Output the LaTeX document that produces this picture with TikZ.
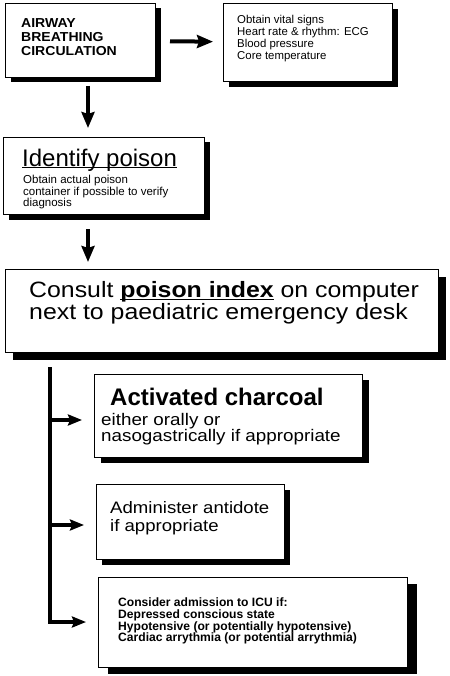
\documentclass[tikz,border=0pt]{standalone}
\usepackage{fontspec}
\setmainfont{Liberation Sans}
\newfontfamily\wide[FakeStretch=1.12]{Liberation Sans}
\newfontfamily\wideb[FakeStretch=1.08]{Liberation Sans}
\usetikzlibrary{arrows.meta,shadows}
\newlength\ulw
\newcommand\myul[2][1.8pt]{\settowidth\ulw{#2}\rlap{#2}\rule[-#1]{\ulw}{1.1pt}}
\begin{document}
\begin{tikzpicture}[x=1pt,y=-1pt,
  box/.style={draw=black,line width=1pt,fill=white,anchor=north west,inner sep=0pt},
  shd/.style 2 args={drop shadow={shadow xshift=#1pt,shadow yshift=-#2pt,fill=black,opacity=1}},
  txt/.style={anchor=base west,inner sep=0pt,align=left},
  bigarr/.style={line width=4pt,-{Stealth[length=16pt,width=13pt,inset=2pt]}},
  smallarr/.style={line width=3.5pt,-{Stealth[length=14pt,width=11pt,inset=2pt]}}
]
\useasboundingbox (0,0) rectangle (449,676);

% boxes
\node[box,shd={5}{5},minimum width=150pt,minimum height=74pt] (b1) at (5,3) {};
\node[box,shd={5}{6},minimum width=169pt,minimum height=78pt] (b2) at (223,3) {};
\node[box,shd={5}{5},minimum width=201pt,minimum height=77pt] (b3) at (3,137) {};
\node[box,shd={7}{7},minimum width=433pt,minimum height=83pt] (b4) at (5,269) {};
\node[box,shd={6}{5},minimum width=268pt,minimum height=83pt] (b5) at (94,374) {};
\node[box,shd={5}{5},minimum width=188pt,minimum height=75pt] (b6) at (96,484) {};
\node[box,shd={9}{6},minimum width=309pt,minimum height=90pt] (b7) at (98,577) {};

% texts (anchor = baseline of the last line)
\node[txt,font=\wideb\bfseries\fontsize{13}{13.8}\selectfont] (t1) at (21,55.3)
  {AIRWAY\\BREATHING\\CIRCULATION};
\node[txt,font=\fontsize{11.4}{11.7}\selectfont] (t2) at (237,59.1)
  {Obtain vital signs\\Heart rate \& rhythm: ECG\\Blood pressure\\Core temperature};
\node[txt,font=\fontsize{24}{26}\selectfont] (t3) at (22,166.7) {\myul{Identify poison}};
\node[txt,font=\fontsize{11.5}{11.5}\selectfont] (t3b) at (23,206.7)
  {Obtain actual poison\\container if possible to verify\\diagnosis};
\node[txt,font=\wide\fontsize{22.2}{17.8}\selectfont] (t4) at (29,319.5)
  {Consult \myul[2.2pt]{\textbf{poison index}} on computer\\next to paediatric emergency desk};
\node[txt,font=\bfseries\fontsize{24}{26}\selectfont] (t5) at (110,405) {Activated charcoal};
\node[txt,font=\wide\fontsize{16.8}{15}\selectfont] (t5b) at (101,441.7)
  {either orally or\\nasogastrically if appropriate};
\node[txt,font=\wide\fontsize{16.6}{18.7}\selectfont] (t6) at (110,531.7)
  {Administer antidote\\if appropriate};
\node[txt,font=\bfseries\fontsize{12.1}{11.7}\selectfont] (t7) at (118,641.7)
  {Consider admission to ICU if:\\Depressed conscious state\\Hypotensive (or potentially hypotensive)\\Cardiac arrythmia (or potential arrythmia)};

% connectors
\coordinate (c1) at (88,0);
\coordinate (top) at (50,367);
\coordinate (j1) at (50,420);
\coordinate (j2) at (50,525);
\coordinate (j3) at (50,622);
\draw[bigarr,shorten <=14pt,shorten >=10pt] (b1) -- (b2);
\draw[bigarr,shorten <=8pt,shorten >=9pt] (b1.south -| c1) -- (b3.north -| c1);
\draw[bigarr,shorten <=14pt,shorten >=7pt] (b3.south -| c1) -- (b4.north -| c1);
\draw[smallarr,line join=miter,shorten >=12pt] (top) -- (j3) -- (j3 -| b7.west);
\draw[smallarr,shorten >=12pt] (j1) -- (j1 -| b5.west);
\draw[smallarr,shorten >=12pt] (j2) -- (j2 -| b6.west);
\end{tikzpicture}
\end{document}
